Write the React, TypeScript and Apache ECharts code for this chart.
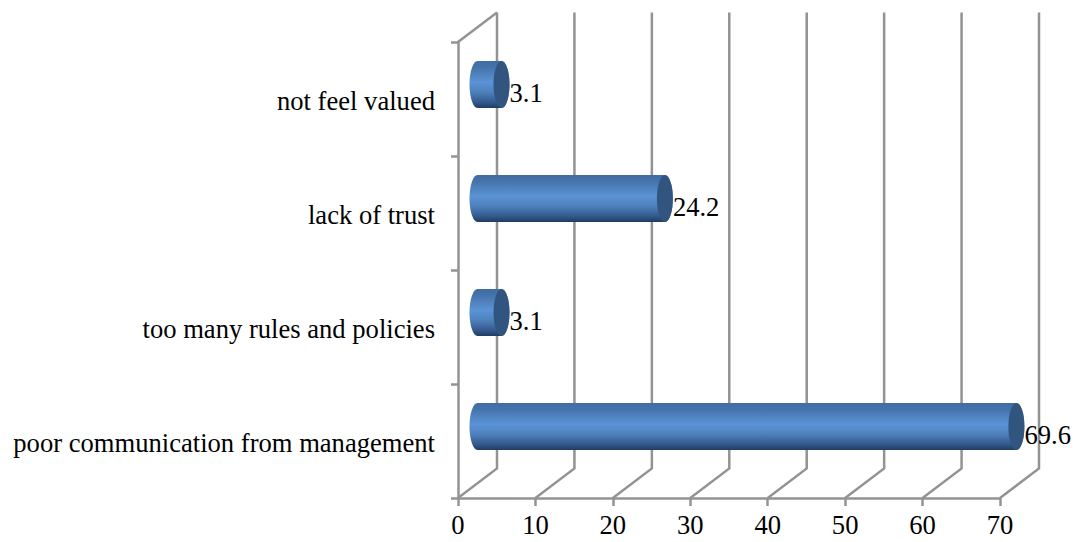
import React, { useEffect, useRef } from "react";
import * as echarts from "echarts";

const categories = [
  "poor communication from management",
  "too many rules and policies",
  "lack of trust",
  "not feel valued",
];
const values = [69.6, 3.1, 24.2, 3.1];
const valueTicks = [0, 10, 20, 30, 40, 50, 60, 70];

const FONT = "'Liberation Serif', 'Times New Roman', serif";
const FONT_SIZE = 26.6;
const LINE = "#939393";
const LINE_WIDTH = 2.5;

// Offset of the back wall from the front plane, and of the bars' axis from it.
const WALL_DX = 39;
const WALL_DY = 29.5;
const BAR_DX = 19.5;
const BAR_DY = 14.5;
const BAR_RX = 8;
const BAR_RY = 23.5;
const K = 0.5523;

echarts.graphic.registerShape(
  "cylinderBody",
  echarts.graphic.extendShape({
    shape: { x0: 0, x1: 0, cy: 0, rx: 0, ry: 0 },
    buildPath(ctx: any, s: any) {
      const top = s.cy - s.ry;
      const bottom = s.cy + s.ry;
      ctx.moveTo(s.x0, top);
      ctx.lineTo(s.x1, top);
      ctx.bezierCurveTo(s.x1 + s.rx * K, top, s.x1 + s.rx, s.cy - s.ry * K, s.x1 + s.rx, s.cy);
      ctx.bezierCurveTo(s.x1 + s.rx, s.cy + s.ry * K, s.x1 + s.rx * K, bottom, s.x1, bottom);
      ctx.lineTo(s.x0, bottom);
      ctx.bezierCurveTo(s.x0 - s.rx * K, bottom, s.x0 - s.rx, s.cy + s.ry * K, s.x0 - s.rx, s.cy);
      ctx.bezierCurveTo(s.x0 - s.rx, s.cy - s.ry * K, s.x0 - s.rx * K, top, s.x0, top);
      ctx.closePath();
    },
  })
);

export default function App() {
  const ref = useRef<HTMLDivElement>(null);

  useEffect(() => {
    const chart = echarts.init(ref.current!, null, { renderer: "svg" });

    const renderWall = (params: any, api: any) => {
      const sys = params.coordSys;
      const x = api.coord([api.value(0), 0])[0];
      const floor = sys.y + sys.height;
      const children: any[] = [
        {
          type: "polyline",
          shape: {
            points: [
              [x, floor],
              [x + WALL_DX, floor - WALL_DY],
              [x + WALL_DX, sys.y - WALL_DY],
            ],
          },
          style: { stroke: LINE, lineWidth: LINE_WIDTH, fill: "none" },
        },
      ];
      if (api.value(0) === 0) {
        children.push({
          type: "line",
          shape: { x1: x, y1: sys.y, x2: x + WALL_DX, y2: sys.y - WALL_DY },
          style: { stroke: LINE, lineWidth: LINE_WIDTH },
        });
      }
      return { type: "group", children };
    };

    const renderBar = (_params: any, api: any) => {
      const value = api.value(0);
      const [xv, yc] = api.coord([value, api.value(1)]);
      const x0 = api.coord([0, api.value(1)])[0] + BAR_DX;
      const x1 = xv + BAR_DX;
      const cy = yc - BAR_DY;
      return {
        type: "group",
        children: [
          {
            type: "cylinderBody",
            shape: { x0, x1, cy, rx: BAR_RX, ry: BAR_RY },
            style: {
              fill: new echarts.graphic.LinearGradient(0, 0, 0, 1, [
                { offset: 0, color: "#3f6ca3" },
                { offset: 0.12, color: "#4472a9" },
                { offset: 0.45, color: "#5b93d6" },
                { offset: 0.65, color: "#4f82be" },
                { offset: 0.88, color: "#33598c" },
                { offset: 1, color: "#1f3c62" },
              ]),
            },
          },
          {
            type: "ellipse",
            shape: { cx: x1, cy, rx: BAR_RX, ry: BAR_RY },
            style: { fill: "#31557f" },
          },
          {
            type: "text",
            style: {
              text: String(value),
              x: x1 + BAR_RX,
              y: yc - 6.5,
              align: "left",
              verticalAlign: "middle",
              fontFamily: FONT,
              fontSize: FONT_SIZE,
              fill: "#000000",
            },
          },
        ],
      };
    };

    chart.setOption({
      animation: false,
      backgroundColor: "#ffffff",
      grid: { left: 458, right: 77, top: 42, bottom: 44 },
      xAxis: {
        type: "value",
        min: 0,
        max: 70,
        interval: 10,
        splitLine: { show: false },
        axisLine: { show: true, lineStyle: { color: LINE, width: LINE_WIDTH } },
        axisTick: { show: true, length: 8, lineStyle: { color: LINE, width: LINE_WIDTH } },
        axisLabel: {
          color: "#000000",
          fontFamily: FONT,
          fontSize: FONT_SIZE,
          margin: 13,
          hideOverlap: false,
          showMinLabel: true,
          showMaxLabel: true,
        },
      },
      yAxis: {
        type: "category",
        data: categories,
        splitLine: { show: false },
        axisLine: { show: true, lineStyle: { color: LINE, width: LINE_WIDTH } },
        axisTick: { show: true, length: 7, lineStyle: { color: LINE, width: LINE_WIDTH } },
        axisLabel: {
          color: "#000000",
          fontFamily: FONT,
          fontSize: FONT_SIZE,
          margin: 23,
          interval: 0,
          verticalAlign: "top",
          lineHeight: 4,
        },
      },
      series: [
        {
          type: "custom",
          silent: true,
          z: 1,
          data: valueTicks.map((t) => [t, 0]),
          encode: { x: 0, y: 1 },
          renderItem: renderWall,
        },
        {
          type: "custom",
          silent: true,
          z: 3,
          data: values.map((v, i) => [v, i]),
          encode: { x: 0, y: 1 },
          renderItem: renderBar,
        },
      ],
    });

    return () => chart.dispose();
  }, []);

  return (
    <div
      ref={ref}
      style={{ position: "absolute", left: 0, top: 0, width: 1077, height: 542 }}
    />
  );
}
